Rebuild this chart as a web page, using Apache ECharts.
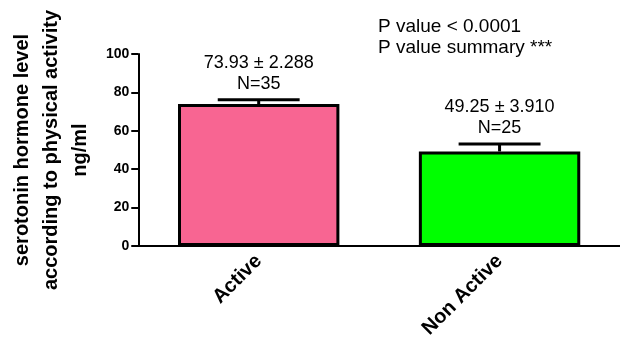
<!DOCTYPE html>
<html>
<head>
<meta charset="utf-8">
<script src="https://cdn.jsdelivr.net/npm/echarts@6/dist/echarts.min.js"></script>
<style>
  html, body { margin: 0; padding: 0; background: #fff; }
  #chart { width: 620px; height: 353px; }
</style>
</head>
<body>
<div id="chart"></div>
<script>
// Group names, means, standard errors and sample sizes
const categories = ['Active', 'Non Active'];
const means = [73.93, 49.25];
const sems = [2.288, 3.910];
const counts = [35, 25];
const barColors = ['#F86592', '#00FF00'];
const yTicks = { min: 0, max: 100, interval: 20 };
const statLines = ['P value < 0.0001', 'P value summary ***'];

const FONT = '"Liberation Sans", Arial, Helvetica, sans-serif';

const chart = echarts.init(document.getElementById('chart'), null, { renderer: 'canvas' });

const errData = means.map((m, i) => [i, m, sems[i], counts[i]]);

chart.setOption({
  animation: false,
  backgroundColor: '#ffffff',
  grid: { left: 131, width: 500, top: 54, height: 192, containLabel: false },
  xAxis: {
    type: 'category',
    data: categories,
    axisLine: { lineStyle: { color: '#000', width: 2 } },
    axisTick: { alignWithLabel: true, length: 5, lineStyle: { color: '#000', width: 1.5 } },
    axisLabel: {
      rotate: 45,
      margin: 12,
      color: '#000',
      fontFamily: FONT,
      fontWeight: 'bold',
      fontSize: 20
    }
  },
  yAxis: {
    type: 'value',
    min: yTicks.min,
    max: yTicks.max,
    interval: yTicks.interval,
    splitLine: { show: false },
    axisLine: { show: true, lineStyle: { color: '#000', width: 2 } },
    axisTick: { show: true, length: 7, lineStyle: { color: '#000', width: 2 } },
    axisLabel: {
      margin: 9,
      color: '#000',
      fontFamily: FONT,
      fontWeight: 'bold',
      fontSize: 14
    },
    name: 'serotonin hormone level\naccording to physical activity\nng/ml',
    nameLocation: 'middle',
    nameRotate: 90,
    nameGap: 38,
    nameTextStyle: {
      color: '#000',
      fontFamily: FONT,
      fontWeight: 'bold',
      fontSize: 20,
      lineHeight: 29,
      align: 'center'
    }
  },
  graphic: [
    {
      type: 'text',
      left: 378,
      top: 16,
      style: {
        text: statLines.join('\n'),
        font: '19px ' + FONT,
        lineHeight: 21,
        fill: '#000'
      }
    }
  ],
  series: [
    {
      type: 'bar',
      barWidth: '67%',
      data: means.map((v, i) => ({
        value: v,
        itemStyle: { color: barColors[i], borderColor: '#000', borderWidth: 3 }
      })),
      z: 2
    },
    {
      type: 'custom',
      data: errData,
      z: 3,
      renderItem: function (params, api) {
        const idx = api.value(0);
        const mean = api.value(1);
        const sem = api.value(2);
        const n = api.value(3);
        const base = api.coord([idx, mean]);
        const top = api.coord([idx, mean + sem]);
        const band = api.size([1, 0])[0];
        const half = band * 0.17;
        const stroke = { stroke: '#000', lineWidth: 3 };
        return {
          type: 'group',
          children: [
            { type: 'line', shape: { x1: base[0], y1: base[1], x2: top[0], y2: top[1] }, style: stroke },
            { type: 'line', shape: { x1: top[0] - half, y1: top[1], x2: top[0] + half, y2: top[1] }, style: stroke },
            {
              type: 'text',
              x: top[0],
              y: top[1] - 5,
              style: {
                text: mean.toFixed(2) + ' \u00B1 ' + sem.toFixed(3) + '\nN=' + n,
                textAlign: 'center',
                textVerticalAlign: 'bottom',
                font: '18px ' + FONT,
                lineHeight: 21,
                fill: '#000'
              }
            }
          ]
        };
      }
    }
  ]
});
</script>
</body>
</html>
